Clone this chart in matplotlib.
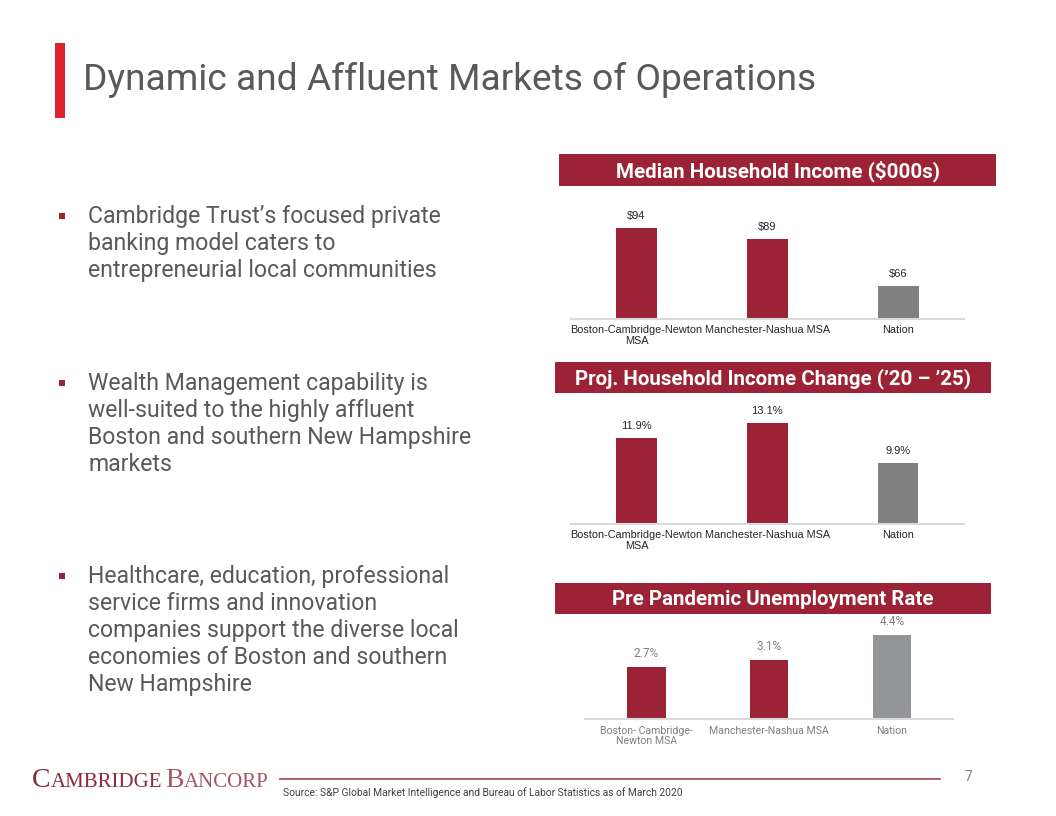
import matplotlib
matplotlib.use("Agg")
import matplotlib.pyplot as plt
from matplotlib.patches import Rectangle
from matplotlib.lines import Line2D

# ---------------- data ----------------
title = "Dynamic and Affluent Markets of Operations"

bullets = [
    "Cambridge Trust\u2019s focused private\nbanking model caters to\nentrepreneurial local communities",
    "Wealth Management capability is\nwell-suited to the highly affluent\nBoston and southern New Hampshire\nmarkets",
    "Healthcare, education, professional\nservice firms and innovation\ncompanies support the diverse local\neconomies of Boston and southern\nNew Hampshire",
]

categories_a = ["Boston-Cambridge-Newton\nMSA", "Manchester-Nashua MSA", "Nation"]
categories_c = ["Boston- Cambridge-\nNewton MSA", "Manchester-Nashua MSA", "Nation"]

income_title = "Median Household Income ($000s)"
income_values = [94, 89, 66]
income_labels = ["$94", "$89", "$66"]

change_title = "Proj. Household Income Change (\u201920 \u2013 \u201925)"
change_values = [11.9, 13.1, 9.9]
change_labels = ["11.9%", "13.1%", "9.9%"]

unemp_title = "Pre Pandemic Unemployment Rate"
unemp_values = [2.7, 3.1, 4.4]
unemp_labels = ["2.7%", "3.1%", "4.4%"]

logo_parts = [("C", 20, "#8c2a3a"), ("AMBRIDGE", 15, "#8c2a3a"),
              ("B", 20, "#a35561"), ("ANCORP", 15, "#a35561")]
source = "Source: S&P Global Market Intelligence and Bureau of Labor Statistics as of March 2020"
page_no = "7"

# ---------------- style ----------------
W, H = 1056, 816
MAROON = "#9b2335"
GREY1 = "#808080"
GREY2 = "#939598"
TEXT = "#58595b"

fig = plt.figure(figsize=(W / 100, H / 100), dpi=100)
fig.patch.set_facecolor("white")
renderer = fig.canvas.get_renderer()


def fx(x):
    return x / W


def fy(y):
    return 1 - y / H


def ax_px(left, top, right, bottom):
    return fig.add_axes([left / W, 1 - bottom / H, (right - left) / W, (bottom - top) / H])


# title accent bar and title
fig.patches.append(Rectangle((fx(55), fy(118)), 10 / W, 75 / H, transform=fig.transFigure,
                             facecolor="#e0212f", edgecolor="none"))
fig.text(fx(83), fy(80), title, fontsize=26.7, family="Roboto", color=TEXT, va="center", ha="left")

# bullets
bullet_tops = [216, 383, 576]
for txt, yt in zip(bullets, bullet_tops):
    fig.patches.append(Rectangle((fx(59), fy(yt + 3)), 6 / W, 6 / H, transform=fig.transFigure,
                                 facecolor=MAROON, edgecolor="none"))
    fig.text(fx(88), fy(yt - 11), txt, fontsize=16.6, family="Roboto", color=TEXT,
             va="top", ha="left", linespacing=1.22)


def header(left, top, right, bottom, text):
    fig.patches.append(Rectangle((fx(left), fy(bottom)), (right - left) / W, (bottom - top) / H,
                                 transform=fig.transFigure, facecolor=MAROON, edgecolor="none"))
    fig.text(fx((left + right) / 2), fy((top + bottom) / 2 + 1), text, fontsize=14.8,
             family="Roboto", weight="bold", color="white", ha="center", va="center")


def bar_chart(ax, values, labels, cats, colors, ylim, width, lab_font, lab_color, lab_size,
              tick_size, tick_color, tick_pad):
    x = list(range(len(values)))
    ax.bar(x, values, width=width, color=colors, bottom=0)
    ax.set_xlim(-0.5, len(values) - 0.5)
    ax.set_ylim(*ylim)
    for xi, v, lab in zip(x, values, labels):
        ax.annotate(lab, (xi, v), xytext=(0, 5), textcoords="offset points", ha="center",
                    va="bottom", fontsize=lab_size, family=lab_font, color=lab_color)
    ax.set_xticks(x)
    ax.set_xticklabels(cats, fontsize=tick_size, family=lab_font, color=tick_color,
                       linespacing=1.1)
    ax.tick_params(axis="x", length=0, pad=tick_pad)
    ax.set_yticks([])
    for s in ["top", "left", "right"]:
        ax.spines[s].set_visible(False)
    ax.spines["bottom"].set_color("#d9d9d9")
    ax.spines["bottom"].set_linewidth(1.5)
    ax.patch.set_alpha(0)


# chart 1
header(559, 154, 996, 186, income_title)
ax1 = ax_px(571, 200, 964, 319.3)
bar_chart(ax1, income_values, income_labels, categories_a, [MAROON, MAROON, GREY1],
          (50, 50 + 119.3 / 2.068), 0.31, "Liberation Sans", "#262626", 8, 7.8, "#262626", 4)

# chart 2
header(555, 362, 991, 393, change_title)
ax2 = ax_px(571, 405, 963.5, 524.3)
bar_chart(ax2, change_values, change_labels, categories_a, [MAROON, MAROON, GREY1],
          (5, 5 + 119.3 / 12.54), 0.31, "Liberation Sans", "#262626", 8, 7.8, "#262626", 4)

# chart 3
header(555, 583, 991, 614, unemp_title)
ax3 = ax_px(585, 625, 953.3, 718.7)
bar_chart(ax3, unemp_values, unemp_labels, categories_c, [MAROON, MAROON, GREY2],
          (0, 93.7 / 19.0), 0.314, "Roboto", "#7f7f7f", 8.5, 7.6, "#7f7f7f", 5)

# footer logo, placed piece by piece
xpos = 32
for i, (part, size, col) in enumerate(logo_parts):
    t = fig.text(fx(xpos), fy(787), part, fontsize=size, family="Liberation Serif", color=col,
                 va="baseline", ha="left")
    bb = t.get_window_extent(renderer=renderer)
    xpos += bb.width + (3 if i == 1 else 0)

fig.lines.append(Line2D([fx(280), fx(940)], [fy(779), fy(779)], transform=fig.transFigure,
                        color="#a8505c", linewidth=1.3))
fig.text(fx(968), fy(777), page_no, fontsize=10, family="Roboto", color="#7f7f7f",
         va="center", ha="center")
fig.text(fx(283), fy(793), source, fontsize=7.4, family="Roboto", color="#404040",
         va="center", ha="left")

fig.savefig("out.png", dpi=100, facecolor="white")
